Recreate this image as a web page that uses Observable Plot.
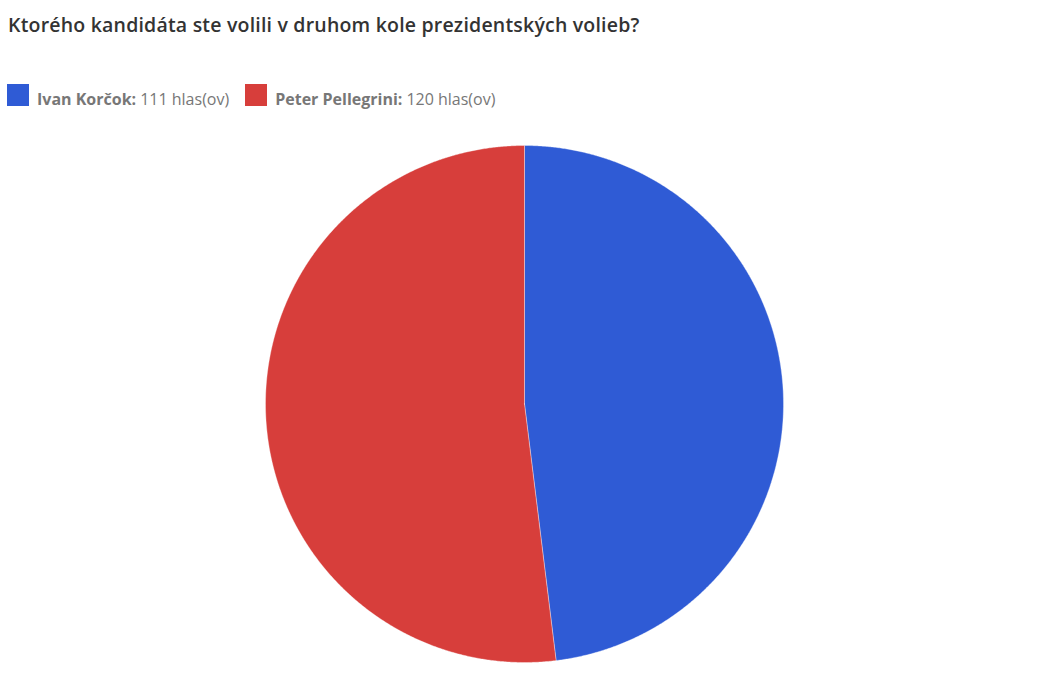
<!DOCTYPE html>
<html>
<head>
<meta charset="utf-8">
<script src="https://cdn.jsdelivr.net/npm/d3@7"></script>
<script src="https://cdn.jsdelivr.net/npm/@observablehq/plot@0.6"></script>
<style>
  html, body { margin: 0; padding: 0; background: #fff; }
  body { width: 1042px; height: 678px; position: relative; overflow: hidden; font-family: "Open Sans", Lato, sans-serif; }
  #title { position: absolute; left: 8px; top: 11px; font-size: 19.5px; font-weight: 600; color: #333; letter-spacing: 0.2px; }
  #legend { position: absolute; left: 7px; top: 84px; display: flex; align-items: center; font-size: 16px; color: #777; }
  .item { display: flex; align-items: center; margin-right: 16px; }
  .sw { width: 22px; height: 22px; margin-right: 8px; }
  .txt { position: relative; top: 4px; }
  .item b { font-weight: 700; margin-right: 4px; }
  #chart { position: absolute; left: 0; top: 130px; }
</style>
</head>
<body>
<div id="title">Ktorého kandidáta ste volili v druhom kole prezidentských volieb?</div>
<div id="legend"></div>
<div id="chart"></div>
<script>
const candidates = ["Ivan Korčok", "Peter Pellegrini"];
const votes = [111, 120];
const colors = ["#2f5bd5", "#d73e3b"];
const unit = "hlas(ov)";

// legend
const legend = document.getElementById("legend");
candidates.forEach((c, i) => {
  const it = document.createElement("div");
  it.className = "item";
  it.innerHTML = `<span class="sw" style="background:${colors[i]}"></span><span class="txt"><b>${c}:</b>${votes[i]} ${unit}</span>`;
  legend.appendChild(it);
});

// pie geometry from d3.pie (clockwise from 12 o'clock)
const pie = d3.pie().sort(null).value(d => d.v)(candidates.map((c, i) => ({c, v: votes[i]})));
const pts = [];
pie.forEach(s => {
  const name = s.data.c;
  pts.push({name, x: 0, y: 0});
  const n = Math.max(2, Math.ceil((s.endAngle - s.startAngle) / 0.005));
  for (let k = 0; k <= n; k++) {
    const a = s.startAngle + (s.endAngle - s.startAngle) * k / n;
    pts.push({name, x: Math.sin(a), y: Math.cos(a)});
  }
  pts.push({name, x: 0, y: 0});
});

const W = 1042, H = 548;
const plot = Plot.plot({
  width: W, height: H,
  marginLeft: 265, marginRight: 259, marginTop: 15, marginBottom: 16,
  x: {domain: [-1, 1], axis: null},
  y: {domain: [-1, 1], axis: null},
  color: {domain: candidates, range: colors},
  marks: [
    Plot.line(pts, {x: "x", y: "y", z: "name", fill: "name", stroke: "white", strokeOpacity: 0.35, strokeWidth: 1, curve: "linear-closed"})
  ]
});
document.getElementById("chart").appendChild(plot);
</script>
</body>
</html>
